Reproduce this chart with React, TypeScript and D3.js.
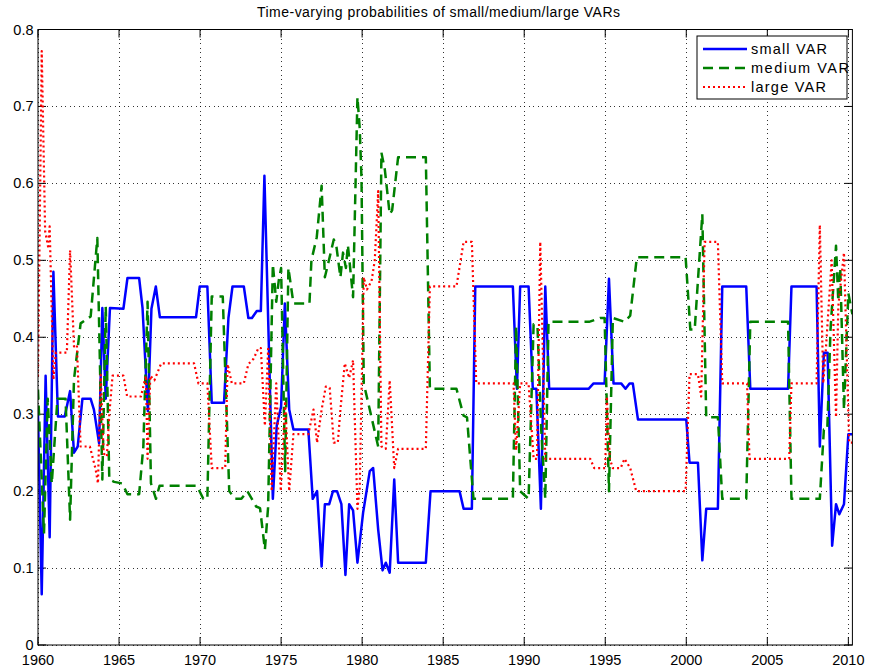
import React from 'react';
import * as d3 from 'd3';

const W = 871;
const H = 670;

const titleText = 'Time-varying probabilities of small/medium/large VARs';
const xTicks = [1960, 1965, 1970, 1975, 1980, 1985, 1990, 1995, 2000, 2005, 2010];
const yTicks = [0, 0.1, 0.2, 0.3, 0.4, 0.5, 0.6, 0.7, 0.8];
const yTickLabels = ['0', '0.1', '0.2', '0.3', '0.4', '0.5', '0.6', '0.7', '0.8'];
const seriesNames = ['small VAR', 'medium VAR', 'large VAR'];

type P = [number, number];

const smallVAR: P[] = [
  [1960.0, 0.30], [1960.1, 0.2], [1960.23, 0.066], [1960.47, 0.35], [1960.72, 0.14], [1960.95, 0.485],
  [1961.23, 0.297], [1961.65, 0.297], [1961.98, 0.33], [1962.22, 0.25], [1962.45, 0.258], [1962.74, 0.32],
  [1963.25, 0.32], [1963.45, 0.306], [1963.77, 0.262], [1963.97, 0.438], [1964.18, 0.32], [1964.44, 0.438],
  [1965.27, 0.437], [1965.52, 0.477], [1966.24, 0.477], [1966.45, 0.438], [1966.78, 0.304], [1967.0, 0.437],
  [1967.27, 0.466], [1967.52, 0.426], [1969.75, 0.426], [1969.98, 0.466], [1970.45, 0.466], [1970.72, 0.315],
  [1971.48, 0.315], [1971.75, 0.425], [1972.0, 0.466], [1972.7, 0.466], [1972.98, 0.425], [1973.2, 0.425],
  [1973.5, 0.434], [1973.75, 0.434], [1973.97, 0.61], [1974.49, 0.19], [1974.73, 0.285], [1975.0, 0.31],
  [1975.23, 0.444], [1975.5, 0.306], [1975.76, 0.28], [1976.68, 0.28], [1976.95, 0.19], [1977.22, 0.2],
  [1977.5, 0.102], [1977.7, 0.183], [1977.97, 0.183], [1978.2, 0.2], [1978.45, 0.2], [1978.72, 0.183],
  [1978.97, 0.091], [1979.2, 0.183], [1979.44, 0.175], [1979.71, 0.107], [1980.06, 0.172], [1980.47, 0.226],
  [1980.68, 0.23], [1980.99, 0.15], [1981.26, 0.097], [1981.46, 0.107], [1981.7, 0.094], [1981.98, 0.215],
  [1982.22, 0.107], [1983.93, 0.107], [1984.22, 0.2], [1986.01, 0.2], [1986.26, 0.177], [1986.77, 0.177],
  [1986.98, 0.466], [1989.3, 0.466], [1989.55, 0.333], [1989.75, 0.466], [1990.27, 0.466], [1990.53, 0.333],
  [1990.75, 0.333], [1991.03, 0.177], [1991.3, 0.466], [1991.54, 0.333], [1993.97, 0.333], [1994.28, 0.34],
  [1994.96, 0.34], [1995.23, 0.476], [1995.51, 0.34], [1995.98, 0.34], [1996.25, 0.333], [1996.5, 0.34],
  [1996.7, 0.34], [1997.02, 0.293], [2000.0, 0.293], [2000.2, 0.237], [2000.72, 0.237], [2000.99, 0.11],
  [2001.23, 0.177], [2001.95, 0.177], [2002.22, 0.466], [2003.7, 0.466], [2003.95, 0.333], [2006.28, 0.333],
  [2006.49, 0.466], [2008.04, 0.466], [2008.24, 0.258], [2008.49, 0.38], [2008.72, 0.38], [2009.0, 0.129],
  [2009.24, 0.183], [2009.44, 0.17], [2009.73, 0.183], [2010.0, 0.274], [2010.25, 0.274],
];

const mediumVAR: P[] = [
  [1960.0, 0.332], [1960.37, 0.145], [1960.6, 0.32], [1960.85, 0.21], [1961.2, 0.32], [1961.7, 0.32],
  [1961.98, 0.163], [1962.22, 0.345], [1962.63, 0.418], [1963.25, 0.427], [1963.66, 0.529], [1963.97, 0.215],
  [1964.18, 0.44], [1964.4, 0.215], [1964.7, 0.212], [1965.2, 0.21], [1965.52, 0.196],
  [1966.24, 0.196], [1966.5, 0.258], [1966.76, 0.446], [1966.97, 0.21], [1967.28, 0.19], [1967.5, 0.207],
  [1969.8, 0.207], [1970.2, 0.19], [1970.45, 0.19], [1970.72, 0.453], [1971.4, 0.453], [1971.8, 0.2],
  [1972.15, 0.19], [1972.55, 0.19], [1972.92, 0.2], [1973.46, 0.18], [1973.7, 0.178], [1974.0, 0.124],
  [1974.2, 0.18], [1974.49, 0.495], [1974.7, 0.446], [1974.85, 0.473], [1975.0, 0.49], [1975.25, 0.226],
  [1975.45, 0.49], [1975.76, 0.444], [1976.75, 0.444], [1976.87, 0.5], [1977.2, 0.53], [1977.5, 0.597],
  [1977.7, 0.478], [1977.95, 0.5], [1978.25, 0.527], [1978.4, 0.52], [1978.66, 0.478], [1978.82, 0.51],
  [1979.0, 0.49], [1979.12, 0.52], [1979.44, 0.452], [1979.71, 0.712], [1979.85, 0.672], [1979.96, 0.607],
  [1980.1, 0.34], [1980.47, 0.306], [1980.99, 0.258], [1981.19, 0.64], [1981.4, 0.618], [1981.7, 0.56],
  [1981.85, 0.565], [1982.22, 0.634], [1983.93, 0.634], [1984.18, 0.333], [1985.82, 0.333], [1986.26, 0.298],
  [1986.47, 0.296], [1986.87, 0.19], [1989.3, 0.19], [1989.5, 0.414], [1989.75, 0.2], [1990.27, 0.19],
  [1990.58, 0.417], [1990.82, 0.414], [1991.05, 0.28], [1991.3, 0.19], [1991.5, 0.42], [1994.0, 0.42],
  [1994.69, 0.425], [1994.96, 0.425], [1995.05, 0.35], [1995.23, 0.2], [1995.47, 0.425], [1996.2, 0.42],
  [1996.54, 0.428], [1996.95, 0.504], [1999.96, 0.504], [2000.25, 0.41], [2000.52, 0.41], [2000.99, 0.56],
  [2001.23, 0.296], [2001.95, 0.296], [2002.22, 0.19], [2003.7, 0.19], [2003.95, 0.42], [2006.28, 0.42],
  [2006.49, 0.19], [2008.24, 0.19], [2008.49, 0.28], [2008.7, 0.28], [2008.9, 0.41], [2009.24, 0.519],
  [2009.38, 0.447], [2009.5, 0.49], [2009.73, 0.306], [2010.0, 0.457], [2010.25, 0.43],
];

const largeVAR: P[] = [
  [1960.0, 0.349], [1960.23, 0.772], [1960.44, 0.538], [1960.62, 0.518], [1960.72, 0.544], [1960.95, 0.345],
  [1961.1, 0.38], [1961.78, 0.38], [1961.98, 0.513], [1962.22, 0.388], [1962.4, 0.39], [1962.63, 0.258],
  [1963.2, 0.258], [1963.56, 0.228], [1963.7, 0.21], [1963.87, 0.351], [1964.05, 0.249], [1964.25, 0.245],
  [1964.4, 0.3], [1964.6, 0.35], [1965.27, 0.35], [1965.5, 0.323], [1966.35, 0.323], [1966.66, 0.35],
  [1966.76, 0.242], [1966.93, 0.35], [1967.18, 0.344], [1967.6, 0.366], [1969.63, 0.366], [1969.9, 0.34],
  [1970.45, 0.34], [1970.72, 0.23], [1971.55, 0.23], [1971.7, 0.365], [1971.96, 0.34], [1972.7, 0.34],
  [1972.98, 0.365], [1973.3, 0.372], [1973.6, 0.386], [1973.75, 0.386], [1974.0, 0.285], [1974.2, 0.385],
  [1974.42, 0.2], [1974.7, 0.34], [1974.98, 0.2], [1975.25, 0.317], [1975.5, 0.2], [1975.76, 0.274],
  [1976.68, 0.274], [1977.0, 0.306], [1977.22, 0.263], [1977.5, 0.306], [1977.76, 0.336], [1978.0, 0.334],
  [1978.25, 0.263], [1978.5, 0.263], [1978.66, 0.306], [1978.93, 0.366], [1979.2, 0.347], [1979.44, 0.37],
  [1979.71, 0.177], [1979.85, 0.204], [1980.1, 0.478], [1980.3, 0.462], [1980.58, 0.473], [1980.78, 0.5],
  [1980.99, 0.59], [1981.19, 0.258], [1981.46, 0.255], [1981.7, 0.344], [1981.98, 0.23], [1982.22, 0.255],
  [1983.93, 0.255], [1984.18, 0.466], [1985.82, 0.466], [1986.26, 0.524], [1986.77, 0.524], [1987.04, 0.34],
  [1989.34, 0.34], [1989.5, 0.253], [1989.75, 0.34], [1990.27, 0.34], [1990.58, 0.242], [1990.79, 0.242],
  [1990.99, 0.524], [1991.3, 0.242], [1994.07, 0.242], [1994.32, 0.23], [1995.0, 0.23], [1995.1, 0.323],
  [1995.28, 0.242], [1995.47, 0.23], [1995.95, 0.23], [1996.19, 0.242], [1996.54, 0.23], [1996.91, 0.2],
  [1999.96, 0.2], [2000.2, 0.352], [2000.72, 0.352], [2000.92, 0.323], [2001.13, 0.524], [2001.95, 0.524],
  [2002.22, 0.34], [2003.75, 0.34], [2003.9, 0.242], [2006.35, 0.242], [2006.49, 0.34], [2008.04, 0.34],
  [2008.24, 0.546], [2008.45, 0.34], [2008.6, 0.38], [2008.97, 0.5], [2009.24, 0.296], [2009.38, 0.44],
  [2009.73, 0.51], [2010.05, 0.263], [2010.25, 0.263],
];

const seriesColors = ['#0000ff', '#008000', '#ff0000'];
const seriesDash = ['none', '10,6', '2,3'];

export default function App() {
  const left = 38, right = 852.4, top = 29.5, bottom = 645;
  const x = d3.scaleLinear().domain([1960, 2010.25]).range([left, right]);
  const y = d3.scaleLinear().domain([0, 0.8]).range([bottom, top]);
  const line = d3.line<P>().x(d => x(d[0])).y(d => y(d[1]));
  const data = [smallVAR, mediumVAR, largeVAR];
  const font = "'Liberation Sans', Arial, Helvetica, sans-serif";
  const tick = 8;
  const legendX = 697, legendY = 36, legendW = 150, legendH = 63;
  const legendWidths = [76, 98, 75];

  return (
    <div style={{ position: 'fixed', left: 0, top: 0 }}>
      <svg width={W} height={H} viewBox={`0 0 ${W} ${H}`} style={{ display: 'block', background: '#fff' }}>
        <rect x={0} y={0} width={W} height={H} fill="#fff" />
        <g stroke="#000" strokeWidth={0.8} strokeDasharray="1,3.5" shapeRendering="crispEdges">
          {xTicks.map(t => (
            <line key={'gx' + t} x1={x(t)} x2={x(t)} y1={top} y2={bottom} />
          ))}
          {yTicks.map(t => (
            <line key={'gy' + t} x1={left} x2={right} y1={y(t)} y2={y(t)} />
          ))}
        </g>
        <g stroke="#000" strokeWidth={1}>
          {xTicks.map(t => (
            <g key={'tx' + t}>
              <line x1={x(t)} x2={x(t)} y1={bottom} y2={bottom - tick} />
              <line x1={x(t)} x2={x(t)} y1={top} y2={top + tick} />
            </g>
          ))}
          {yTicks.map(t => (
            <g key={'ty' + t}>
              <line x1={left} x2={left + tick} y1={y(t)} y2={y(t)} />
              <line x1={right} x2={right - tick} y1={y(t)} y2={y(t)} />
            </g>
          ))}
        </g>
        <defs>
          <clipPath id="plotclip">
            <rect x={left} y={top} width={right - left} height={bottom - top} />
          </clipPath>
        </defs>
        <g clipPath="url(#plotclip)" fill="none">
          {data.map((d, i) => (
            <path
              key={'s' + i}
              d={line(d) || ''}
              stroke={seriesColors[i]}
              strokeWidth={i === 2 ? 2.2 : 2.5}
              strokeDasharray={seriesDash[i]}
              strokeLinejoin="round"
            />
          ))}
        </g>
        <rect x={left} y={top} width={right - left} height={bottom - top} fill="none" stroke="#000" strokeWidth={1} />
        <g fontFamily={font} fontSize={14.5} fill="#000">
          {xTicks.map(t => (
            <text key={'lx' + t} x={x(t)} y={664.5} textAnchor="middle">{t}</text>
          ))}
          {yTickLabels.map((lab, i) => (
            <text key={'ly' + i} x={33.5} y={y(yTicks[i]) + 5} textAnchor="end">{lab}</text>
          ))}
        </g>
        <text x={257} y={17} fontFamily={font} fontSize={14} textLength={363} lengthAdjust="spacing" fill="#000">
          {titleText}
        </text>
        <g>
          <rect x={legendX} y={legendY} width={legendW} height={legendH} fill="#fff" stroke="#000" strokeWidth={1} />
          {seriesNames.map((name, i) => {
            const ly = 49 + i * 19;
            return (
              <g key={'lg' + i}>
                <line x1={703} x2={747} y1={ly} y2={ly} stroke={seriesColors[i]} strokeWidth={i === 2 ? 2.2 : 2.5}
                  strokeDasharray={seriesDash[i]} />
                <text x={751} y={ly + 5} fontFamily={font} fontSize={14.5} textLength={legendWidths[i]}
                  lengthAdjust="spacing" fill="#000">{name}</text>
              </g>
            );
          })}
        </g>
      </svg>
    </div>
  );
}
